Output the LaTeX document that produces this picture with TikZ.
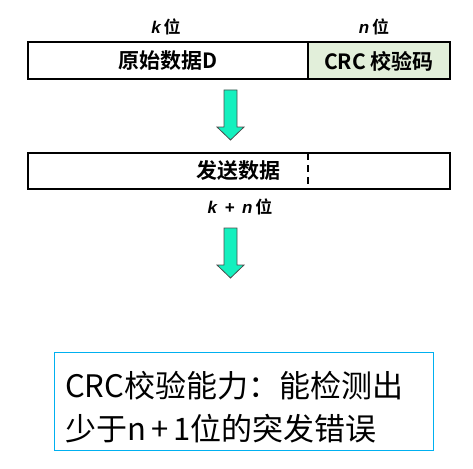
\documentclass[tikz,border=0pt]{standalone}
\usepackage{fontspec}
\setmainfont{Noto Sans CJK SC}
\newfontfamily\cjkb{Noto Sans CJK SC Bold}
\newfontfamily\cjkr{Noto Sans CJK SC}
\newfontfamily\latb{Liberation Sans}
\usetikzlibrary{calc}
\definecolor{arrowfill}{RGB}{20,240,190}
\definecolor{crcgreen}{RGB}{226,239,218}
\definecolor{boxblue}{RGB}{0,176,240}
\tikzset{
  databox/.style={draw=black, line width=2pt},
  bigarrow/.style={draw=black!70, fill=arrowfill, line width=0.8pt},
  lbl/.style={font=\fontsize{17}{19}\selectfont\cjkb, inner sep=0pt},
  boxtxt/.style={font=\fontsize{21}{24}\selectfont\cjkb, inner sep=0pt}
}
\begin{document}
\begin{tikzpicture}[x=1pt,y=-1pt]
\useasboundingbox (0,0) rectangle (473,468);
% top box
\fill[crcgreen] (308,42) rectangle (450,79);
\draw[databox] (28,42) rectangle (450,79);
\draw[line width=2pt] (308,42) -- (308,79);
\node[boxtxt] (orig) at (168,61) {原始数据D};
\node[boxtxt] (crc) at (379,61) {CRC 校验码};
\node[lbl] (klbl) at (166,27) {{\latb\bfseries\itshape k}\,位};
\node[lbl] (nlbl) at (374,27) {{\latb\bfseries\itshape n}\,位};
% arrow 1
\draw[bigarrow] (224,90) -- (237,90) -- (237,127) -- (244,127) -- (230.5,140) -- (217,127) -- (224,127) -- cycle;
% second box
\draw[databox] (28,153) rectangle (450,189);
\draw[line width=2pt, dash pattern=on 7pt off 5pt] (308,153) -- (308,189);
\node[boxtxt] (send) at (238,171) {发送数据};
\node[lbl] (knlbl) at (240,207) {{\latb\bfseries\itshape k\,\ +\ \,n}\,位};
% arrow 2
\draw[bigarrow] (224,228) -- (237,228) -- (237,265) -- (244,265) -- (230.5,278) -- (217,265) -- (224,265) -- cycle;
% bottom box
\draw[draw=boxblue, line width=1pt] (54,352) rectangle (433,450);
\node[font=\fontsize{31}{34}\selectfont\cjkr, anchor=west, inner sep=0pt] (l1) at (65,386) {CRC校验能力：能检测出};
\node[font=\fontsize{31}{34}\selectfont\cjkr, anchor=west, inner sep=0pt] (l2) at (65,429) {少于n\,+\,1位的突发错误};
\end{tikzpicture}
\end{document}
